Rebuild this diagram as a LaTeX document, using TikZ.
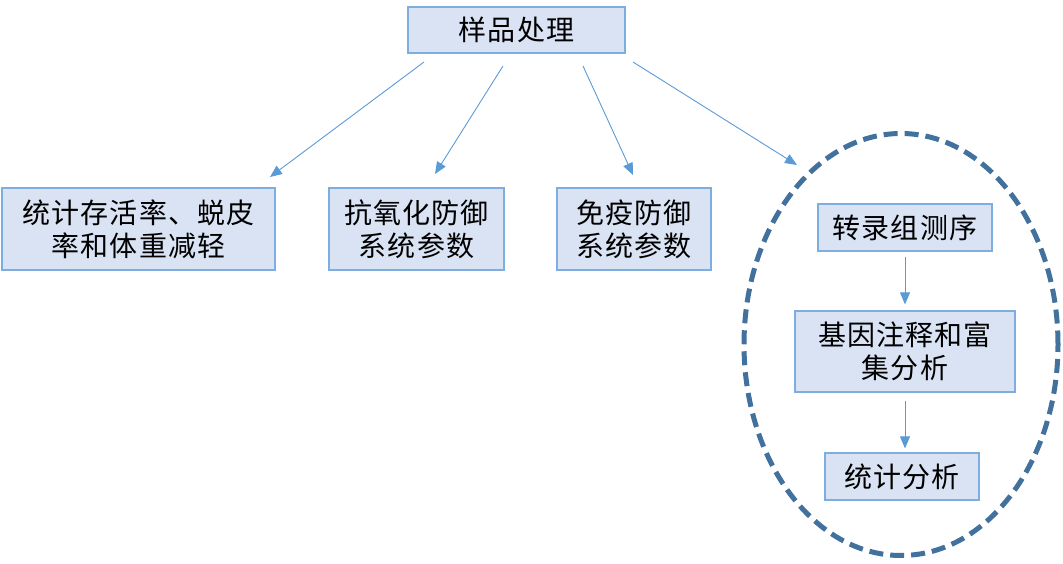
\documentclass[tikz,border=0pt]{standalone}
\usepackage{fontspec}
\setmainfont{Noto Sans CJK SC}[LetterSpace=4]
\usetikzlibrary{arrows.meta}
\definecolor{boxfill}{HTML}{DAE3F3}
\definecolor{boxline}{HTML}{7EAEDF}
\definecolor{arrowc}{HTML}{5B9BD5}
\definecolor{ellc}{HTML}{41719C}
\tikzset{
  box/.style={draw=boxline, line width=1.2pt, fill=boxfill, align=center, inner sep=0pt,
    font=\fontsize{28pt}{33pt}\selectfont, text=black},
  arr/.style={draw=arrowc, line width=0.9pt, -{Triangle[length=12pt,width=10pt]}},
}
\begin{document}
\begin{tikzpicture}[x=1pt,y=-1pt]
\useasboundingbox (0,0) rectangle (1063,564);
\node[box, minimum width=217pt, minimum height=46pt] (top) at (516.5,30) {样品处理};
\node[box, minimum width=273pt, minimum height=82pt] (b1) at (138.5,229) {统计存活率、蜕皮\\率和体重减轻};
\node[box, minimum width=175pt, minimum height=82pt] (b2) at (416.5,229) {抗氧化防御\\系统参数};
\node[box, minimum width=154pt, minimum height=82pt] (b3) at (634,229) {免疫防御\\系统参数};
\draw[ellc, line width=5pt, dash pattern=on 14pt off 7pt] (901,344.5) ellipse [x radius=157pt, y radius=211pt];
\node[box, minimum width=174pt, minimum height=47pt] (c1) at (905,227.5) {转录组测序};
\node[box, minimum width=220pt, minimum height=81pt] (c2) at (905,351.5) {基因注释和富\\集分析};
\node[box, minimum width=154pt, minimum height=47pt] (c3) at (902,476.5) {统计分析};
\coordinate (s1) at (424,62); \coordinate (e1) at (270,177);
\coordinate (s2) at (503,66); \coordinate (e2) at (435,174);
\coordinate (s3) at (583,66); \coordinate (e3) at (633,175);
\coordinate (s4) at (633,62); \coordinate (e4) at (797,165);
\draw[arr] (s1) -- (e1);
\draw[arr] (s2) -- (e2);
\draw[arr] (s3) -- (e3);
\draw[arr] (s4) -- (e4);
\draw[arr] ([yshift=-5pt]c1.south) -- ([yshift=6pt]c2.north);
\draw[arr] ([yshift=-8pt]c2.south -| c1.south) -- ([yshift=4pt]c3.north -| c1.south);
\end{tikzpicture}
\end{document}
